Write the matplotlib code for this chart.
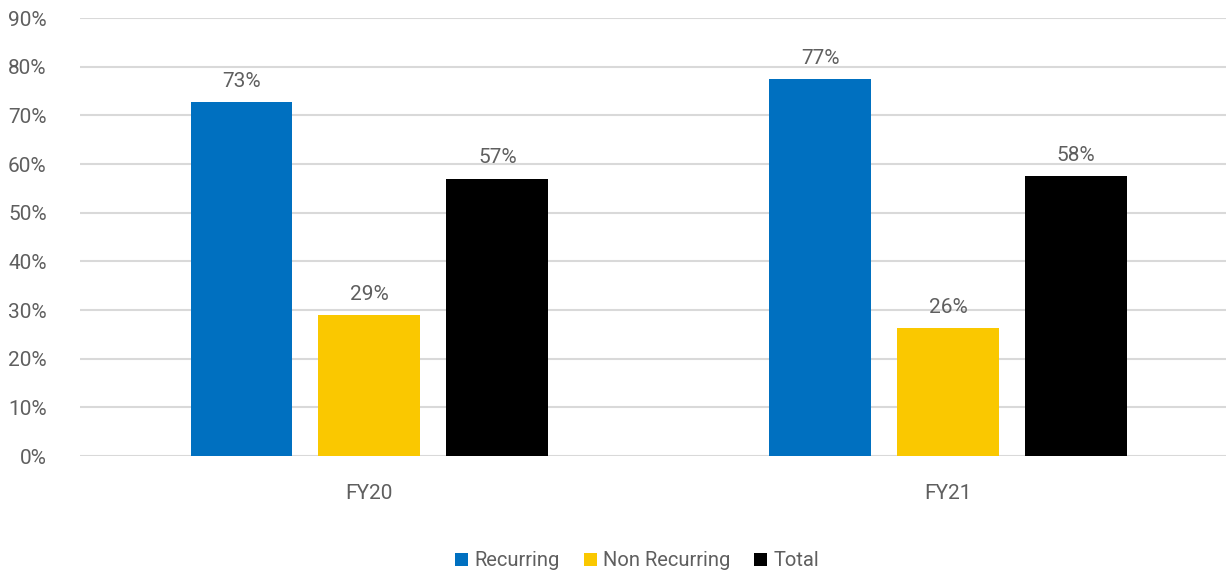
import numpy as np
import matplotlib.pyplot as plt

# data
years = ["FY20", "FY21"]
series = ["Recurring", "Non Recurring", "Total"]
recurring = [72.8, 77.4]
non_recurring = [29.0, 26.2]
total = [57.0, 57.6]
labels_rec = ["73%", "77%"]
labels_non = ["29%", "26%"]
labels_tot = ["57%", "58%"]

colors = ["#0070C0", "#FAC800", "#000000"]
text_col = "#5f5f5f"

plt.rcParams["font.family"] = ["Roboto", "DejaVu Sans"]

fig = plt.figure(figsize=(12.26, 5.74), dpi=100)
ax = fig.add_axes([80 / 1226, 118 / 574, 1146 / 1226, 438 / 574])

x = np.arange(len(years))
w = 0.176
off = 0.221
data = [recurring, non_recurring, total]
labs = [labels_rec, labels_non, labels_tot]
for i, (vals, lab) in enumerate(zip(data, labs)):
    bars = ax.bar(x + (i - 1) * off, vals, w, color=colors[i], label=series[i], zorder=3)
    ax.bar_label(bars, labels=lab, padding=8, fontsize=15, color=text_col)

ax.set_xlim(-0.5, 1.48)
ax.set_ylim(0, 90)
ax.set_yticks(range(0, 91, 10))
ax.set_yticklabels([f"{v}%" for v in range(0, 91, 10)])
ax.set_xticks(x)
ax.set_xticklabels(years)
ax.grid(axis="y", color="#D9D9D9", linewidth=1.5, zorder=0)
ax.tick_params(axis="y", length=0, pad=24, labelsize=15, labelcolor=text_col)
ax.tick_params(axis="x", length=0, pad=20, labelsize=15, labelcolor=text_col)
for s in ax.spines.values():
    s.set_visible(False)
ax.set_axisbelow(True)

leg = fig.legend(loc="center", bbox_to_anchor=(637 / 1226, 1 - 561 / 574), ncol=3,
                 frameon=False, fontsize=14.5, handlelength=0.65, handleheight=0.65,
                 handletextpad=0.3, columnspacing=1.2)
for t in leg.get_texts():
    t.set_color(text_col)

fig.savefig("out.png", dpi=100)
